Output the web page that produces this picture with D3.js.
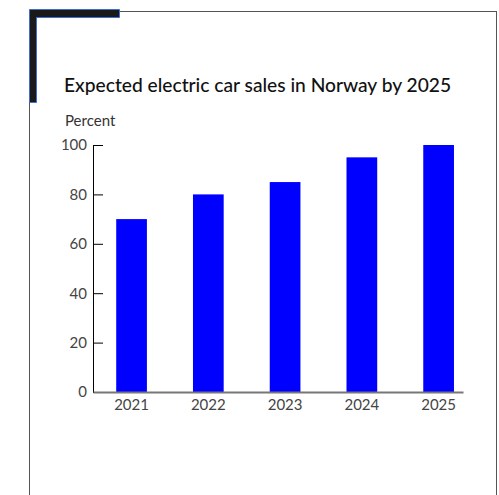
<!DOCTYPE html>
<html>
<head>
<meta charset="utf-8">
<script src="https://cdn.jsdelivr.net/npm/d3@7"></script>
<style>
  body { margin: 0; background: #fff; }
  text { font-family: Lato, "Open Sans", sans-serif; }
</style>
</head>
<body>
<script>
const years = ['2021', '2022', '2023', '2024', '2025'];
const share = [70, 80, 85, 95, 100];
const yTicks = [0, 20, 40, 60, 80, 100];

const width = 499, height = 495;
const margin = {top: 145, left: 93, bottom: 103, right: 36};

let svg = d3.select('body').append('svg')
    .attr('width', width)
    .attr('height', height);

// frame + dark corner accent
svg.append('rect')
    .attr('x', 29.5).attr('y', 11.5)
    .attr('width', 467).attr('height', 500)
    .attr('fill', 'none')
    .attr('stroke', '#555')
    .attr('stroke-width', 1);

svg.append('path')
    .attr('d', 'M29.5,9.5 H119.5 V17.5 H36.5 V102.5 H29.5 Z')
    .attr('fill', '#1a1a1a')
    .attr('stroke', '#3b6fd4')
    .attr('stroke-width', 1);

svg.append('text')
    .attr('x', 64).attr('y', 92)
    .attr('font-size', 19.2)
    .attr('font-weight', 500)
    .attr('fill', '#111')
    .text('Expected electric car sales in Norway by 2025');

svg.append('text')
    .attr('x', 65).attr('y', 126)
    .attr('font-size', 15)
    .attr('fill', '#333')
    .text('Percent');

let x = d3.scaleBand()
    .domain(years)
    .range([margin.left, 463])
    .paddingInner(0.6)
    .paddingOuter(0.21)
    .align(0.72);

let y = d3.scaleLinear()
    .domain([0, 100])
    .range([height - margin.bottom, margin.top]);

// bars
svg.selectAll('rect.bar')
    .data(years)
    .enter().append('rect')
    .attr('class', 'bar')
    .attr('x', d => x(d))
    .attr('y', (d, i) => y(share[i]))
    .attr('width', x.bandwidth())
    .attr('height', (d, i) => y(0) - y(share[i]))
    .attr('fill', '#0000ff');

// y axis, ticks pointing inward
let yAxis = svg.append('g')
    .attr('transform', `translate(${margin.left},0)`)
    .call(d3.axisLeft(y).tickValues(yTicks).tickSizeInner(-10).tickSizeOuter(0).tickPadding(6));
yAxis.select('.domain').attr('stroke', '#000');
yAxis.selectAll('.tick line').attr('stroke', '#000');
yAxis.selectAll('.tick text')
    .attr('font-family', 'Lato, sans-serif')
    .attr('font-size', 15)
    .attr('fill', '#444');

// x axis
let xAxis = svg.append('g')
    .attr('transform', `translate(0,${y(0)})`)
    .call(d3.axisBottom(x).tickSize(0).tickPadding(7));
xAxis.select('.domain').attr('stroke', '#777').attr('stroke-width', 2);
xAxis.selectAll('.tick text')
    .attr('font-family', 'Lato, sans-serif')
    .attr('font-size', 15)
    .attr('fill', '#444');
</script>
</body>
</html>
